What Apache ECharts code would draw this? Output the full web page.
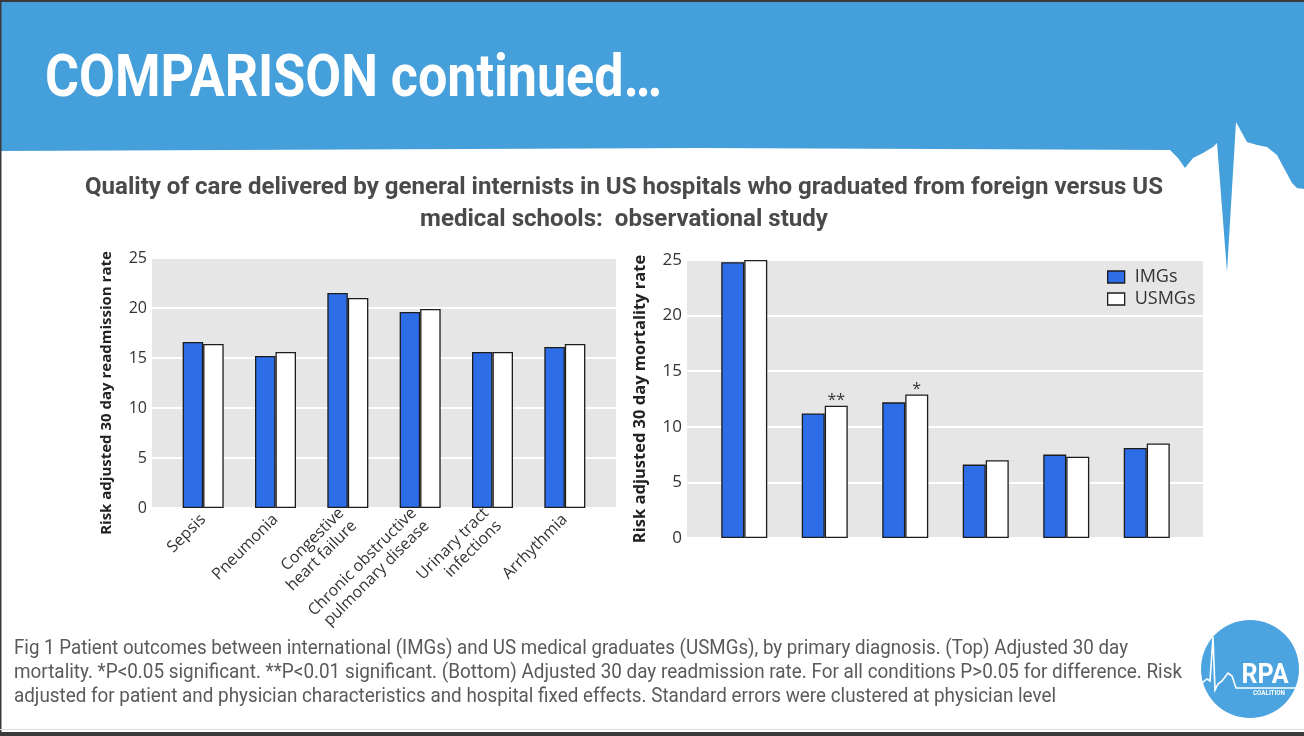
<!DOCTYPE html>
<html>
<head>
<meta charset="utf-8">
<script src="https://cdn.jsdelivr.net/npm/echarts@6/dist/echarts.min.js"></script>
<style>
html,body{margin:0;padding:0;background:#fff;}
#chart{width:1304px;height:736px;}
</style>
</head>
<body>
<div id="chart"></div>
<script>
// ---------- DATA ----------
const categories = ['Sepsis', 'Pneumonia', 'Congestive\nheart failure', 'Chronic obstructive\npulmonary disease', 'Urinary tract\ninfections', 'Arrhythmia'];
const readmissionIMG  = [16.6, 15.2, 21.5, 19.6, 15.6, 16.1];
const readmissionUSMG = [16.4, 15.6, 21.0, 19.9, 15.6, 16.4];
const mortalityIMG  = [24.8, 11.2, 12.2, 6.6, 7.5, 8.1];
const mortalityUSMG = [25.0, 11.9, 12.9, 7.0, 7.3, 8.5];
const mortalitySig  = ['', '**', '*', '', '', ''];
const seriesNames = ['IMGs', 'USMGs'];
const yMin = 0, yMax = 25, yInterval = 5;

const titleText = 'COMPARISON continued\u2026';
const subtitleLines = [
  'Quality of care delivered by general internists in US hospitals who graduated from foreign versus US',
  'medical schools:  observational study'
];
const footerLines = [
  'Fig 1 Patient outcomes between international (IMGs) and US medical graduates (USMGs), by primary diagnosis. (Top) Adjusted 30 day',
  'mortality. *P<0.05 significant. **P<0.01 significant. (Bottom) Adjusted 30 day readmission rate. For all conditions P>0.05 for difference. Risk',
  'adjusted for patient and physician characteristics and hospital fixed effects. Standard errors were clustered at physician level'
];
const yNameLeft = 'Risk adjusted 30 day readmission rate';
const yNameRight = 'Risk adjusted 30 day mortality rate';

// ---------- STYLE ----------
const BLUE = '#449FDA';
const IMG_COLOR = '#2D6EE8';
const BORDER = '#1c1c1c';
const CHART_FONT = '"Open Sans", "DejaVu Sans", sans-serif';

const measureCtx = document.createElement('canvas').getContext('2d');
function fitScale(text, font, target) {
  measureCtx.font = font;
  return target / measureCtx.measureText(text).width;
}
function textEl(text, x, y, size, weight, color, align, targetWidth, family) {
  family = family || 'Roboto';
  const font = weight + ' ' + size + 'px ' + family;
  const sx = targetWidth ? fitScale(text, font, targetWidth) : 1;
  return {
    type: 'text', x: x, y: y, scaleX: sx, z: 10,
    style: {
      text: text, font: font, fill: color,
      align: align, textAlign: align,
      verticalAlign: 'middle', textVerticalAlign: 'middle'
    }
  };
}

const chart = echarts.init(document.getElementById('chart'), null, {renderer: 'canvas'});

const barStyle = (fill) => ({color: fill, borderColor: BORDER, borderWidth: 1.3});

const sigMarks = mortalitySig.map((s, i) => s ? {
  coord: [i, Math.max(mortalityIMG[i], mortalityUSMG[i])],
  label: {formatter: s}
} : null).filter(Boolean);

const graphics = [
  // header band with ECG-like lower edge
  {type: 'polygon', z: 1, shape: {points: [
    [0,0],[1304,0],[1304,189],[1297,188],[1292,183],[1285,170],[1277,155],[1267,147],[1257,145],[1247,142],
    [1236,122],[1227,272],[1217,143],[1213,147],[1203,153],[1193,158],[1185,168],[1178,158],[1170,150],[700,148],[0,151]
  ]}, style: {fill: BLUE}},
  {type: 'rect', z: 2, shape: {x: 0, y: 0, width: 1304, height: 2}, style: {fill: '#3a3a3a'}},
  {type: 'rect', z: 2, shape: {x: 0, y: 0, width: 1.5, height: 736}, style: {fill: '#3a3a3a'}},
  {type: 'rect', z: 2, shape: {x: 0, y: 729, width: 1304, height: 1}, style: {fill: '#dddddd'}},
  {type: 'rect', z: 2, shape: {x: 0, y: 732, width: 1304, height: 4}, style: {fill: '#3a3a3a'}},
  textEl(titleText, 45, 81, 60, 'bold', '#ffffff', 'left', 617),
  textEl(subtitleLines[0], 624, 188, 23, 'bold', '#4a4a4a', 'center', 1078),
  textEl(subtitleLines[1], 624, 220, 23, 'bold', '#4a4a4a', 'center', 408),
  textEl(footerLines[0], 14, 649, 20, 'normal', '#5a5a5a', 'left', 1114),
  textEl(footerLines[1], 14, 673, 20, 'normal', '#5a5a5a', 'left', 1168),
  textEl(footerLines[2], 14, 697, 20, 'normal', '#5a5a5a', 'left', 1042),
  // logo
  {type: 'circle', z: 5, shape: {cx: 1250, cy: 669, r: 49}, style: {fill: '#4BA3DF'}},
  {type: 'polyline', z: 6, shape: {points: [
    [1202,683],[1207,679],[1210,681],[1213,637],[1215,690],[1218,684],[1222,681],[1228,673],[1232,676],[1236,688],[1297,688]
  ]}, style: {stroke: '#ffffff', lineWidth: 1.6, fill: null}},
  textEl('RPA', 1265, 676, 28, 'bold', '#ffffff', 'center', 47),
  textEl('COALITION', 1269, 692.5, 8, 'bold', '#ffffff', 'center', 32)
];

const option = {
  animation: false,
  backgroundColor: '#ffffff',
  textStyle: {fontFamily: CHART_FONT},
  graphic: graphics,
  legend: {
    orient: 'vertical', left: 1107, top: 266, padding: 0,
    itemWidth: 17, itemHeight: 12, itemGap: 0,
    icon: 'rect',
    textStyle: {fontSize: 18, color: '#333', fontFamily: CHART_FONT, padding: [0, 0, 0, 5], lineHeight: 22},
    data: [
      {name: seriesNames[0], itemStyle: barStyle(IMG_COLOR)},
      {name: seriesNames[1], itemStyle: barStyle('#ffffff')}
    ]
  },
  grid: [
    {left: 152, right: 1304 - 616, top: 258, bottom: 736 - 508, show: true, backgroundColor: '#E6E6E6', borderWidth: 0},
    {left: 167, right: 1304 - 601, top: 258, bottom: 736 - 508},
    {left: 687, right: 1304 - 1203, top: 260, bottom: 736 - 538, show: true, backgroundColor: '#E6E6E6', borderWidth: 0},
    {left: 704, right: 1304 - 1187, top: 260, bottom: 736 - 538}
  ],
  xAxis: [
    {gridIndex: 0, type: 'value', min: 0, max: 1, show: false},
    {gridIndex: 1, type: 'category', data: categories,
      axisLine: {show: false}, axisTick: {show: false},
      axisLabel: {rotate: 45, interval: 0, fontSize: 16, color: '#333', margin: 9, lineHeight: 18, fontFamily: CHART_FONT}},
    {gridIndex: 2, type: 'value', min: 0, max: 1, show: false},
    {gridIndex: 3, type: 'category', data: categories,
      axisLine: {show: false}, axisTick: {show: false}, axisLabel: {show: false}}
  ],
  yAxis: [
    {gridIndex: 0, type: 'value', min: yMin, max: yMax, interval: yInterval,
      axisLine: {show: false}, axisTick: {show: false},
      splitLine: {lineStyle: {color: '#ffffff', width: 2}},
      axisLabel: {fontSize: 16, color: '#333', margin: 5, fontFamily: CHART_FONT},
      name: yNameLeft, nameLocation: 'middle', nameGap: 38,
      nameTextStyle: {fontSize: 15, fontWeight: 'bold', color: '#222', fontFamily: CHART_FONT, padding: [0, 20, 0, 0]}},
    {gridIndex: 1, type: 'value', min: yMin, max: yMax, interval: yInterval, show: false},
    {gridIndex: 2, type: 'value', min: yMin, max: yMax, interval: yInterval,
      axisLine: {show: false}, axisTick: {show: false},
      splitLine: {lineStyle: {color: '#ffffff', width: 2}},
      axisLabel: {fontSize: 17, color: '#333', margin: 5, fontFamily: CHART_FONT},
      name: yNameRight, nameLocation: 'middle', nameGap: 38,
      nameTextStyle: {fontSize: 16.5, fontWeight: 'bold', color: '#222', fontFamily: CHART_FONT}},
    {gridIndex: 3, type: 'value', min: yMin, max: yMax, interval: yInterval, show: false}
  ],
  series: [
    {name: seriesNames[0], type: 'bar', xAxisIndex: 1, yAxisIndex: 1, data: readmissionIMG,
      barWidth: 20.5, barGap: '0%', itemStyle: barStyle(IMG_COLOR)},
    {name: seriesNames[1], type: 'bar', xAxisIndex: 1, yAxisIndex: 1, data: readmissionUSMG,
      barWidth: 20.5, barGap: '0%', itemStyle: barStyle('#ffffff')},
    {name: seriesNames[0], type: 'bar', xAxisIndex: 3, yAxisIndex: 3, data: mortalityIMG,
      barWidth: 23, barGap: '0%', itemStyle: barStyle(IMG_COLOR)},
    {name: seriesNames[1], type: 'bar', xAxisIndex: 3, yAxisIndex: 3, data: mortalityUSMG,
      barWidth: 23, barGap: '0%', itemStyle: barStyle('#ffffff'),
      markPoint: {
        symbol: 'rect', symbolSize: [1, 1],
        itemStyle: {color: 'rgba(0,0,0,0)', borderWidth: 0},
        label: {show: true, position: 'top', distance: 0, offset: [0, 3], fontSize: 16, color: '#333', fontFamily: CHART_FONT},
        data: sigMarks
      }}
  ]
};
chart.setOption(option);
</script>
</body>
</html>
